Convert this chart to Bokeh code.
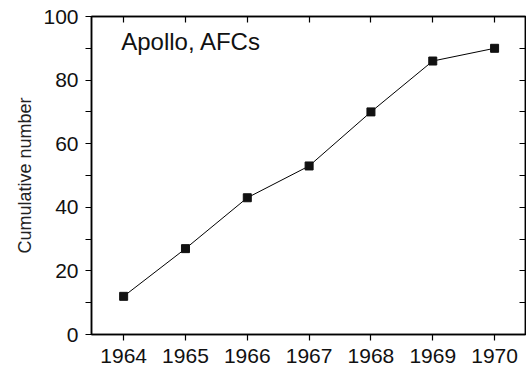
from bokeh.plotting import figure
from bokeh.models import LinearAxis, FixedTicker, Range1d, Label
from bokeh.embed import file_html
from bokeh.resources import INLINE

years = [1964, 1965, 1966, 1967, 1968, 1969, 1970]
cumulative = [12, 27, 43, 53, 70, 86, 90]
y_ticks = [0, 20, 40, 60, 80, 100]
y_minor = [10, 30, 50, 70, 90]

FONT = "Liberation Sans"

p = figure(width=526, height=369, output_backend="svg", toolbar_location=None,
           x_range=Range1d(1963.48, 1970.5), y_range=Range1d(0, 100),
           min_border_left=91, min_border_right=1, min_border_top=16, min_border_bottom=35,
           x_axis_location=None, y_axis_location=None)
p.grid.visible = False
p.outline_line_color = "black"
p.outline_line_width = 1.5
p.background_fill_color = "white"
p.border_fill_color = "white"

def style(ax, labels, tick_in, tick_out, minor=True):
    ax.axis_line_color = "black"
    ax.axis_line_width = 1.5
    ax.major_tick_line_color = "black"
    ax.major_tick_line_width = 1.2
    ax.major_tick_in = tick_in
    ax.major_tick_out = tick_out
    if minor:
        ax.minor_tick_line_color = "black"
        ax.minor_tick_line_width = 1.2
        ax.minor_tick_in = tick_in
        ax.minor_tick_out = tick_out
    else:
        ax.minor_tick_line_color = None
    if labels:
        ax.major_label_text_font = FONT
        ax.major_label_text_font_size = "21px"
        ax.major_label_text_color = "#111111"
    else:
        ax.major_label_text_font_size = "1px"
        ax.major_label_text_color = None
        ax.major_label_standoff = 0

xb = LinearAxis(ticker=FixedTicker(ticks=years))
style(xb, True, 0, 6, minor=False)
xb.major_label_standoff = 8
p.add_layout(xb, "below")

xt = LinearAxis(ticker=FixedTicker(ticks=years))
style(xt, False, 6, 0, minor=False)
p.add_layout(xt, "above")

yl = LinearAxis(ticker=FixedTicker(ticks=y_ticks, minor_ticks=y_minor),
                axis_label="Cumulative number")
style(yl, True, 0, 6)
yl.major_label_standoff = 7
yl.axis_label_text_font = FONT
yl.axis_label_text_font_size = "18px"
yl.axis_label_text_font_style = "normal"
yl.axis_label_text_color = "#222222"
yl.axis_label_standoff = 5
p.add_layout(yl, "left")

yr = LinearAxis(ticker=FixedTicker(ticks=y_ticks, minor_ticks=y_minor))
style(yr, False, 6, 0)
p.add_layout(yr, "right")

p.line(years, cumulative, line_color="black", line_width=1)
p.scatter(years, cumulative, marker="square", size=8, fill_color="#111111",
          line_color="#111111")

p.add_layout(Label(x=1963.96, y=96.3, text="Apollo, AFCs", text_font=FONT,
                   text_font_size="24px", text_color="#111111",
                   text_baseline="top"))

open("out.html", "w").write(file_html(p, INLINE))
